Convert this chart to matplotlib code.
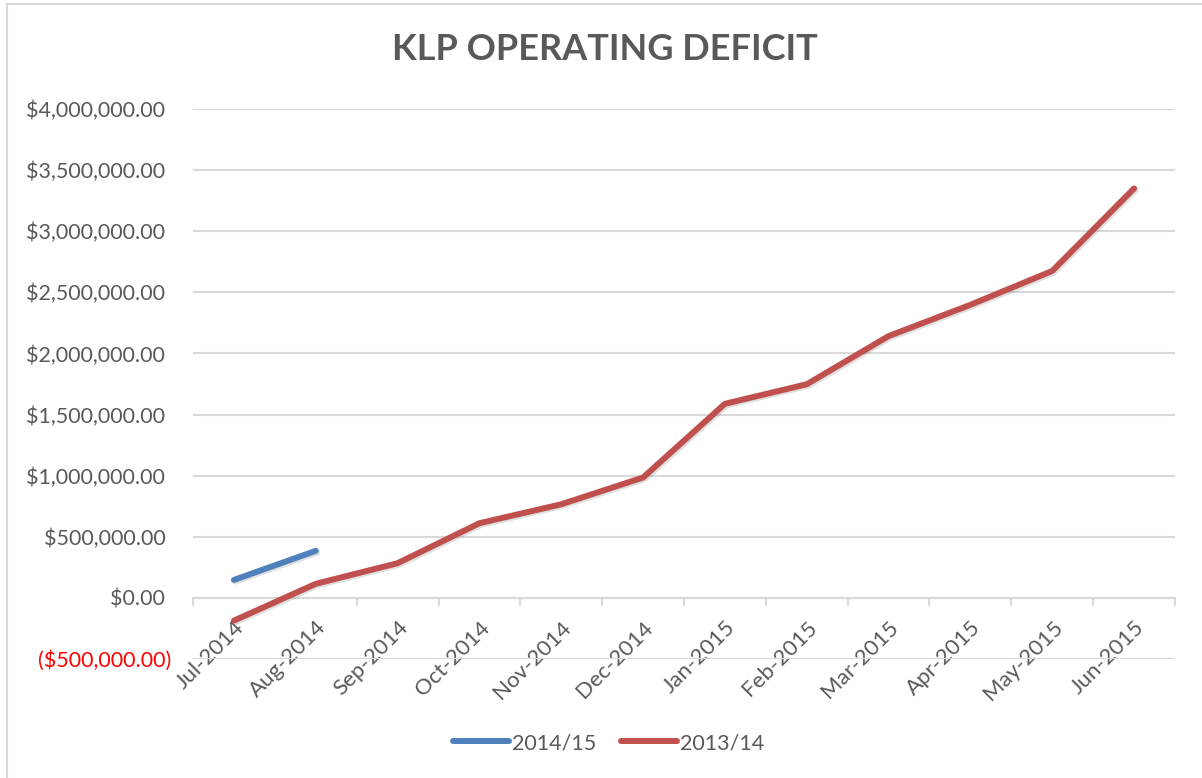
import matplotlib
matplotlib.use("Agg")
import matplotlib.pyplot as plt
from matplotlib.ticker import FuncFormatter, FixedLocator
from matplotlib.lines import Line2D
import matplotlib.patheffects as pe

months = ["Jul-2014", "Aug-2014", "Sep-2014", "Oct-2014", "Nov-2014", "Dec-2014",
          "Jan-2015", "Feb-2015", "Mar-2015", "Apr-2015", "May-2015", "Jun-2015"]
fy1415 = [147000, 385000]
fy1314 = [-186000, 115000, 284000, 611000, 766000, 985000,
          1588000, 1748000, 2142000, 2398000, 2675000, 3350000]
yticks = [-500000, 0, 500000, 1000000, 1500000, 2000000, 2500000, 3000000, 3500000, 4000000]

TXT = "#595959"
GRID = "#D9D9D9"
BLUE = "#4F81BD"
RED = "#C0504D"
FONT = "Lato"

W, H = 1202, 778
fig = plt.figure(figsize=(W / 100, H / 100), dpi=100)
fig.patch.set_facecolor("white")

# chart border (light gray)
fig.add_artist(Line2D([7 / W, 1.0], [1 - 4 / H, 1 - 4 / H], transform=fig.transFigure,
                      color=GRID, lw=1.5))
fig.add_artist(Line2D([7 / W, 7 / W], [1 - 4 / H, 0], transform=fig.transFigure,
                      color=GRID, lw=1.5))

L, R, T, B = 193, 1175, 109, 659
ax = fig.add_axes([L / W, 1 - B / H, (R - L) / W, (B - T) / H])

x = list(range(len(months)))
shadow = [pe.SimpleLineShadow(offset=(1.2, -1.2), alpha=0.25, shadow_color="gray"), pe.Normal()]
ax.plot(x[:len(fy1415)], fy1415, color=BLUE, lw=4.3, solid_capstyle="round",
        solid_joinstyle="round", label="2014/15", zorder=3, path_effects=shadow)
ax.plot(x, fy1314, color=RED, lw=4.3, solid_capstyle="round",
        solid_joinstyle="round", label="2013/14", zorder=3, path_effects=shadow)

ax.set_xlim(-0.5, len(months) - 0.5)
ax.set_ylim(yticks[0], yticks[-1])

ax.yaxis.set_major_locator(FixedLocator(yticks))


def fmt(v, pos):
    if v < 0:
        return "(${:,.2f})".format(-v)
    return "${:,.2f} ".format(v)


ax.yaxis.set_major_formatter(FuncFormatter(fmt))
ax.tick_params(axis="y", length=0, pad=16, labelsize=15.5, labelcolor=TXT)
for lab in ax.get_yticklabels():
    lab.set_fontfamily(FONT)
for lab, v in zip(ax.get_yticklabels(), yticks):
    if v < 0:
        lab.set_color("#FF0000")

ax.grid(axis="y", color=GRID, lw=1.5, zorder=0)
ax.set_axisbelow(True)

for s in ["top", "right", "left"]:
    ax.spines[s].set_visible(False)
ax.spines["bottom"].set_position(("data", 0))
ax.spines["bottom"].set_color(GRID)
ax.spines["bottom"].set_linewidth(1.5)

ax.set_xticks(x)
ax.set_xticklabels(months, rotation=45, ha="right", rotation_mode="anchor",
                   fontsize=16, color=TXT, fontfamily=FONT)
ax.tick_params(axis="x", which="major", length=0, pad=14)
ax.set_xticks([i - 0.5 for i in range(len(months) + 1)], minor=True)
ax.tick_params(axis="x", which="minor", length=6, width=1.5, color=GRID, direction="out")

fig.text(0.503, 1 - 50 / H, "KLP OPERATING DEFICIT", ha="center", va="center",
         fontsize=26, fontweight="bold", color=TXT, fontfamily=FONT)

leg = fig.legend(loc="center", bbox_to_anchor=(608.5 / W, 1 - 743 / H), ncol=2, frameon=False,
                 prop={"family": FONT, "size": 15.5}, handlelength=2.6, handletextpad=0.15,
                 columnspacing=1.13)
for t in leg.get_texts():
    t.set_color(TXT)
for h in leg.legend_handles:
    h.set_path_effects([])

fig.savefig("out.png", dpi=100, facecolor="white")
